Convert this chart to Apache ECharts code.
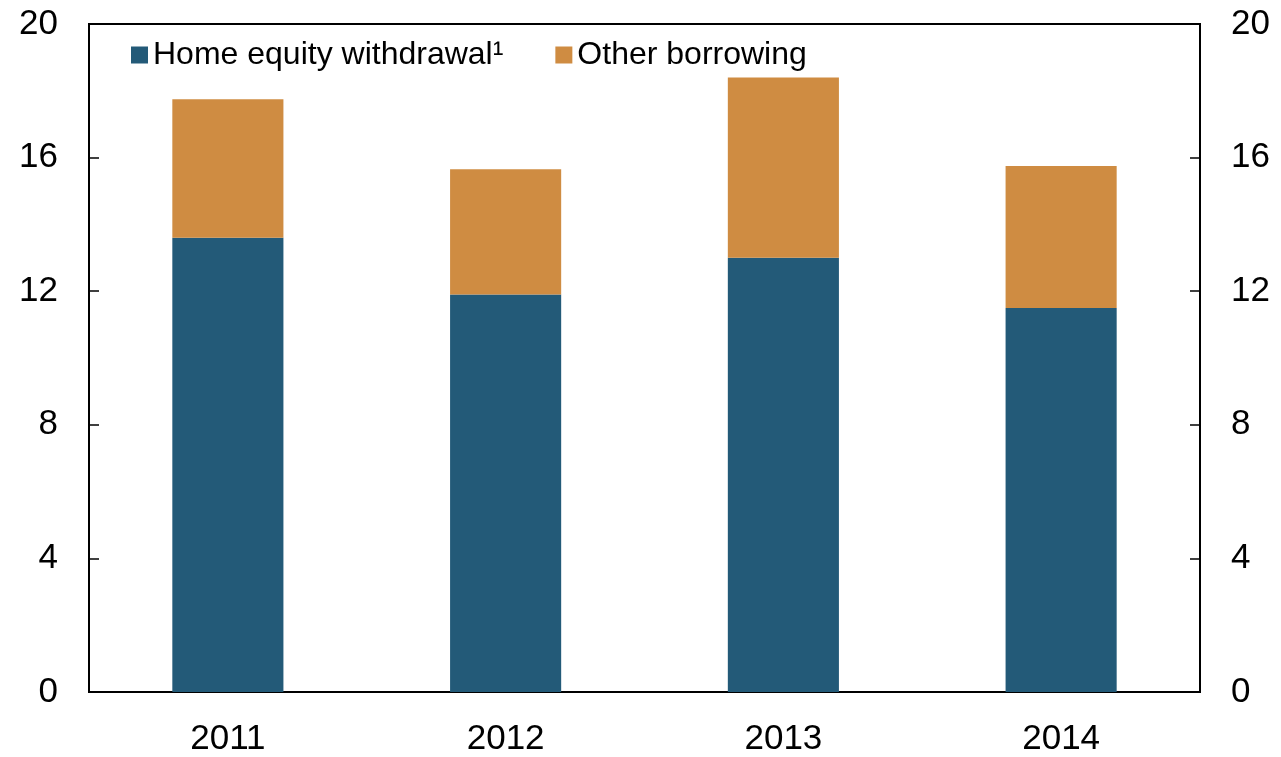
<!DOCTYPE html>
<html>
<head>
<meta charset="utf-8">
<script src="https://cdn.jsdelivr.net/npm/echarts@6/dist/echarts.min.js"></script>
<style>
  html, body { margin: 0; padding: 0; background: #fff; }
  #myChart { width: 1281px; height: 757px; }
</style>
</head>
<body>
<div id="myChart"></div>
<script>
// years on the x axis
var years = ["2011", "2012", "2013", "2014"];
// home equity withdrawal (dark blue, bottom)
var homeEquity = [13.6, 11.9, 13.0, 11.5];
// other borrowing (orange, stacked on top)
var otherBorrowing = [4.15, 3.75, 5.4, 4.25];
var yTicks = [0, 4, 8, 12, 16, 20];

var font = "Liberation Sans, Arial, sans-serif";
var myChart = echarts.init(document.getElementById("myChart"));

var yAxisBase = function (pos) {
  return {
    type: "value",
    position: pos,
    min: yTicks[0],
    max: yTicks[yTicks.length - 1],
    interval: 4,
    axisLine: { show: true, lineStyle: { color: "#000", width: 2 } },
    axisTick: { show: true, inside: true, length: 10, lineStyle: { color: "#000", width: 1.5 } },
    axisLabel: { color: "#000", fontSize: 35, fontFamily: font, margin: 31 },
    splitLine: { show: false }
  };
};

var option = {
  animation: false,
  grid: {
    left: 89,
    right: 81,
    top: 24,
    bottom: 63,
    show: true,
    borderColor: "#000",
    borderWidth: 2
  },
  legend: {
    left: 126,
    top: 34,
    icon: "rect",
    itemWidth: 17,
    itemHeight: 17,
    itemGap: 52,
    textStyle: { color: "#000", fontSize: 32, fontFamily: font },
    data: ["Home equity withdrawal¹", "Other borrowing"]
  },
  xAxis: {
    type: "category",
    data: years,
    axisLine: { lineStyle: { color: "#000", width: 2 } },
    axisTick: { show: false },
    axisLabel: { color: "#000", fontSize: 35, fontFamily: font, margin: 30 }
  },
  yAxis: [yAxisBase("left"), yAxisBase("right")],
  series: [
    {
      name: "Home equity withdrawal¹",
      type: "bar",
      stack: "total",
      barWidth: "40%",
      data: homeEquity,
      itemStyle: { color: "#235a78" }
    },
    {
      name: "Other borrowing",
      type: "bar",
      stack: "total",
      data: otherBorrowing,
      itemStyle: { color: "#cf8c42" }
    }
  ]
};
myChart.setOption(option);
</script>
</body>
</html>
